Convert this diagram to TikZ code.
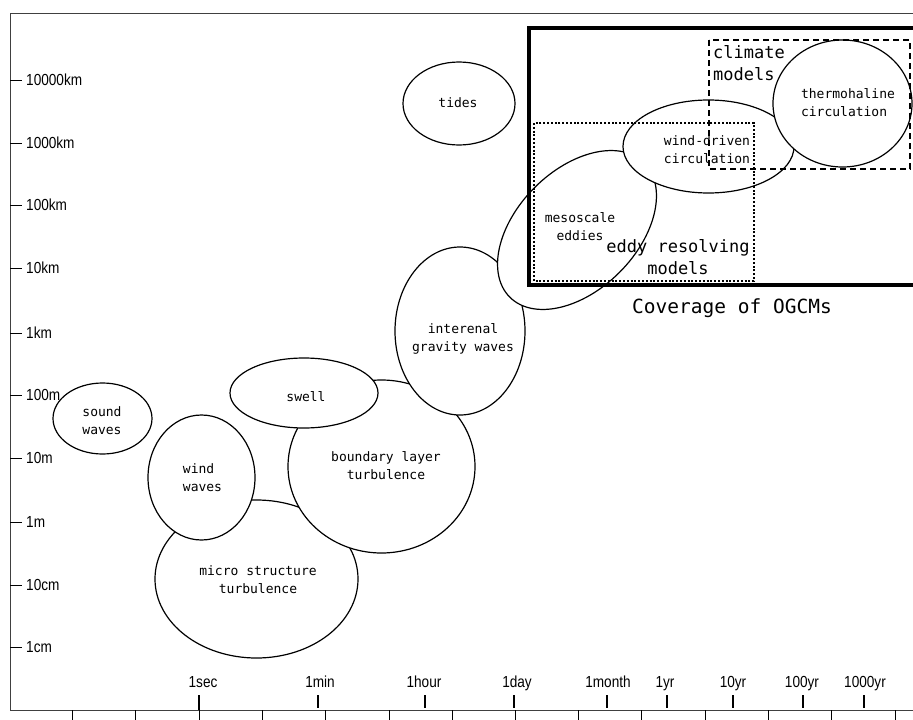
\documentclass[tikz,border=0pt]{standalone}
\usepackage{fontspec}
\newfontfamily\axisfont[FakeStretch=0.85]{Liberation Sans}
\newfontfamily\gothfont{DejaVu Sans Mono}
\usetikzlibrary{shapes.geometric}

\begin{document}
\begin{tikzpicture}[x=1pt, y=-1pt,
        blob/.style={ellipse, draw, fill=white, line width=1.2pt, inner sep=0pt},
        lbl/.style={font=\gothfont\fontsize{13}{18}\selectfont, align=center, inner sep=0pt},
        big/.style={font=\gothfont\fontsize{17}{22}\selectfont, align=center, inner sep=0pt},
        ylbl/.style={font=\axisfont\fontsize{16}{16}\selectfont, anchor=west, inner sep=0pt, xshift=4pt},
        xlbl/.style={font=\axisfont\fontsize{16}{16}\selectfont, anchor=base, inner sep=0pt}]

        \useasboundingbox (0,0) rectangle (913,720);

        % frame
        \draw[line width=1pt, black!75] (913,13) -- (10,13) -- (10,710) -- (913,710);

        % length axis
        \draw (10,80) -- (22,80) node[ylbl] (l10000km) {10000km};
        \draw (10,143) -- (22,143) node[ylbl] (l1000km) {1000km};
        \draw (10,205) -- (22,205) node[ylbl] (l100km) {100km};
        \draw (10,268) -- (22,268) node[ylbl] (l10km) {10km};
        \draw (10,333) -- (22,333) node[ylbl] (l1km) {1km};
        \draw (10,395) -- (22,395) node[ylbl] (l100m) {100m};
        \draw (10,458) -- (22,458) node[ylbl] (l10m) {10m};
        \draw (10,522) -- (22,522) node[ylbl] (l1m) {1m};
        \draw (10,585) -- (22,585) node[ylbl] (l10cm) {10cm};
        \draw (10,647) -- (22,647) node[ylbl] (l1cm) {1cm};

        % time axis, lower ticks
        \draw (72,710) -- (72,720);
        \draw (135,710) -- (135,720);
        \draw (199,710) -- (199,720);
        \draw (262,710) -- (262,720);
        \draw (325,710) -- (325,720);
        \draw (389,710) -- (389,720);
        \draw (452,710) -- (452,720);
        \draw (515,710) -- (515,720);
        \draw (578,710) -- (578,720);
        \draw (641,710) -- (641,720);
        \draw (705,710) -- (705,720);
        \draw (768,710) -- (768,720);
        \draw (831,710) -- (831,720);
        \draw (895,710) -- (895,720);

        % time axis, upper ticks
        \draw[line width=1.3pt] (199,695) -- (199,710);
        \draw[line width=1.3pt] (318,695) -- (318,708);
        \draw[line width=1.3pt] (425,695) -- (425,708);
        \draw[line width=1.3pt] (514,695) -- (514,708);
        \draw[line width=1.3pt] (607,695) -- (607,708);
        \draw[line width=1.3pt] (667,695) -- (667,708);
        \draw[line width=1.3pt] (733,695) -- (733,708);
        \draw[line width=1.3pt] (803,695) -- (803,708);
        \draw[line width=1.3pt] (864,695) -- (864,708);

        \node[xlbl] (t1sec) at (203,687) {1sec};
        \node[xlbl] (t1min) at (320,687) {1min};
        \node[xlbl] (t1hour) at (424,687) {1hour};
        \node[xlbl] (t1day) at (517,687) {1day};
        \node[xlbl] (t1month) at (608,687) {1month};
        \node[xlbl] (t1yr) at (665,687) {1yr};
        \node[xlbl] (t10yr) at (733,687) {10yr};
        \node[xlbl] (t100yr) at (802,687) {100yr};
        \node[xlbl] (t1000yr) at (865,687) {1000yr};

        % phenomena
        \node[blob, minimum width=203pt, minimum height=158pt] (micro) at (256.5,579) {};
        \node[blob, minimum width=107pt, minimum height=125pt] (windwaves) at (201.5,477.5) {};
        \node[blob, minimum width=187pt, minimum height=173pt] (boundary) at (381.5,466.5) {};
        \node[blob, minimum width=148pt, minimum height=70pt] (swell) at (304,393) {};
        \node[blob, minimum width=130pt, minimum height=168pt] (igw) at (460,331) {};
        \node[blob, minimum width=99pt, minimum height=71pt] (sound) at (102.5,418.5) {};
        \node[blob, minimum width=112pt, minimum height=83pt] (tides) at (459,103.5) {};
        \node[blob, rotate=45, minimum width=190pt, minimum height=120pt] (meso) at (577,230) {};
        \node[blob, minimum width=171pt, minimum height=93pt] (winddriven) at (708.5,146.5) {};
        \node[blob, minimum width=139pt, minimum height=127pt] (thermo) at (842.5,103.5) {};

        % phenomena labels
        \node[lbl] (microtxt) at (258,579.5) {micro structure\\turbulence};
        \node[lbl, align=left] (windtxt) at (202.5,478) {wind\\waves};
        \node[lbl] (boundarytxt) at (386,466) {boundary layer\\turbulence};
        \node[lbl] (swelltxt) at (306,397) {swell};
        \node[lbl] (igwtxt) at (463,339) {interenal\\gravity waves};
        \node[lbl] (soundtxt) at (102,420.5) {sound\\waves};
        \node[lbl] (tidestxt) at (458,103) {tides};
        \node[lbl] (mesotxt) at (580,227) {mesoscale\\eddies};
        \node[lbl] (winddriventxt) at (707,150) {wind-driven\\circulation};
        \node[lbl, align=left] (thermotxt) at (848,103) {thermohaline\\circulation};

        % model coverage
        \draw[line width=4pt] (913,28) -- (529,28) -- (529,285) -- (913,285);
        \draw[line width=2.5pt, dash pattern=on 2pt off 1.8pt] (534,123) rectangle (754,281);
        \draw[line width=1.8pt, dash pattern=on 6pt off 4pt] (709,40) rectangle (910,169);

        \node[big, align=left, anchor=west] (climate) at (713,63.5) {climate\\models};
        \node[big] (eddyres) at (678,257) {eddy resolving\\models};
        \node[font=\gothfont\fontsize{19.5}{22}\selectfont] (ogcm) at (732,308) {Coverage of OGCMs};
    \end{tikzpicture}
\end{document}
